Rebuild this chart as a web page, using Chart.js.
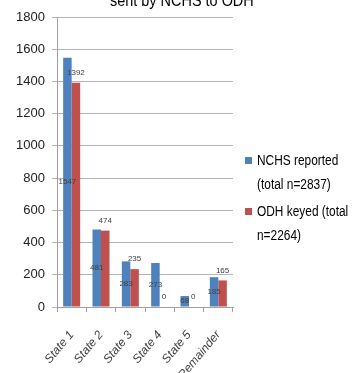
<!DOCTYPE html>
<html>
<head>
<meta charset="utf-8">
<script src="https://cdn.jsdelivr.net/npm/chart.js@4"></script>
<style>
  html, body { margin: 0; padding: 0; background: #fff; overflow: hidden; }
  #wrap { position: relative; width: 355px; height: 373px; }
  #title {
    position: absolute; left: 110px; top: -9px; white-space: nowrap;
    font: 17px 'Liberation Sans', sans-serif; color: #000;
    transform: scaleX(0.85); transform-origin: left top;
  }
  #legend {
    position: absolute; left: 245px; top: 148px; width: 130px;
    font: 14px 'Liberation Sans', sans-serif; color: #000; line-height: 24px;
  }
  .item { position: relative; padding-left: 12px; margin-bottom: 3px; }
  .sw { position: absolute; left: 0; top: 9px; width: 7px; height: 7px; }
  .txt { display: inline-block; transform: scaleX(0.85); transform-origin: left top; white-space: nowrap; }
</style>
</head>
<body>
<div id="wrap">
  <canvas id="chart" width="355" height="373"></canvas>
  <div id="title">sent by NCHS to ODH</div>
  <div id="legend"></div>
</div>
<script>
// ---- data ----
const categories = ['State 1', 'State 2', 'State 3', 'State 4', 'State 5', 'Remainder'];
const nchsReported = [1547, 481, 283, 273, 68, 185];
const odhKeyed = [1392, 474, 235, 0, 0, 165];
const seriesNames = ['NCHS reported (total n=2837)', 'ODH keyed (total n=2264)'];
const legendLines = [['NCHS reported', '(total n=2837)'], ['ODH keyed (total', 'n=2264)']];
const yTicks = [0, 200, 400, 600, 800, 1000, 1200, 1400, 1600, 1800];

const BLUE = '#4F81BD';
const RED = '#C0504D';
const FONT = "'Liberation Sans', sans-serif";

// legend (html, wrapped like the original)
const legendEl = document.getElementById('legend');
[BLUE, RED].forEach((color, i) => {
    const d = document.createElement('div');
    d.className = 'item';
    d.innerHTML = `<span class="sw" style="background:${color}"></span><span class="txt">${legendLines[i].join('<br>')}</span>`;
    legendEl.appendChild(d);
});

// value labels: blue in the middle of the bar, red above the bar
const valueLabels = {
    id: 'valueLabels',
    afterDatasetsDraw(chart) {
        const ctx = chart.ctx;
        ctx.save();
        ctx.font = `8px ${FONT}`;
        ctx.fillStyle = '#404040';
        ctx.textAlign = 'center';
        ctx.textBaseline = 'middle';
        chart.data.datasets.forEach((ds, i) => {
            chart.getDatasetMeta(i).data.forEach((bar, j) => {
                const y = i === 0 ? (bar.y + bar.base) / 2 : bar.y - 10;
                ctx.fillText(String(ds.data[j]), bar.x, y);
            });
        });
        ctx.restore();
    }
};

new Chart(document.getElementById('chart'), {
    type: 'bar',
    data: {
        labels: categories,
        datasets: [
            { label: seriesNames[0], data: nchsReported, backgroundColor: BLUE },
            { label: seriesNames[1], data: odhKeyed, backgroundColor: RED }
        ]
    },
    options: {
        responsive: false,
        animation: false,
        categoryPercentage: 0.58,
        barPercentage: 1,
        layout: { padding: { top: 17, right: 122, left: 0, bottom: 0 } },
        scales: {
            x: {
                grid: { display: true, drawOnChartArea: false, color: '#a0a0a0', tickLength: 5 },
                border: { color: '#a0a0a0' },
                ticks: { color: '#404040', font: { family: FONT, size: 12, style: 'italic' }, minRotation: 50, maxRotation: 50, padding: 16 },
                afterFit(scale) { scale.height = 66; }
            },
            y: {
                min: 0, max: 1800,
                afterBuildTicks(scale) { scale.ticks = yTicks.map(v => ({ value: v })); },
                grid: { color: '#b4b4b4', tickLength: 5 },
                border: { color: '#a0a0a0' },
                ticks: { color: '#222', font: { family: FONT, size: 13 }, padding: 7, callback: v => String(v) },
                afterFit(scale) { scale.width = 57; }
            }
        },
        plugins: {
            legend: { display: false },
            title: { display: false },
            tooltip: { enabled: false }
        }
    },
    plugins: [valueLabels]
});
</script>
</body>
</html>
